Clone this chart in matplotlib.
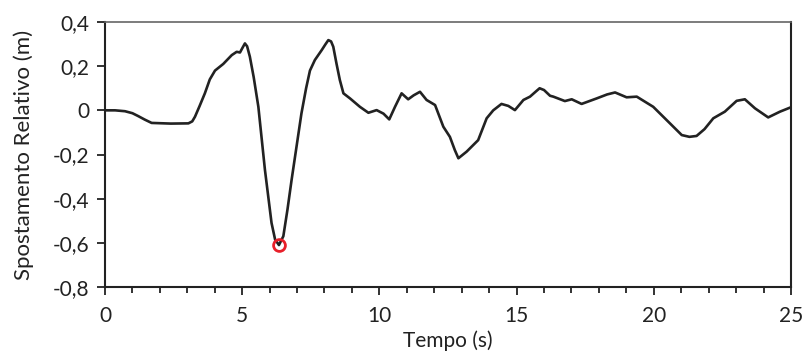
import matplotlib.pyplot as plt
from matplotlib.ticker import FuncFormatter, MultipleLocator

# --- dati ---
tempo = [0.0, 0.37, 0.73, 1.0, 1.21, 1.45, 1.70, 2.40, 3.04, 3.18, 3.28,
         3.45, 3.64, 3.82, 4.01, 4.31, 4.62, 4.80, 4.92, 5.02, 5.10, 5.18,
         5.28, 5.42, 5.59, 5.83, 6.07, 6.20, 6.34, 6.50, 6.65, 6.80, 7.16,
         7.33, 7.47, 7.65, 7.90, 8.04, 8.14, 8.24, 8.32, 8.44, 8.56, 8.69,
         8.93, 9.29, 9.60, 9.90, 10.15, 10.36, 10.57, 10.81, 11.05, 11.25,
         11.48, 11.72, 12.03, 12.33, 12.57, 12.75, 12.88, 13.18, 13.60, 13.91,
         14.15, 14.45, 14.70, 14.94, 15.25, 15.49, 15.70, 15.84, 16.00, 16.22,
         16.34, 16.76, 17.01, 17.37, 17.92, 18.30, 18.59, 19.01, 19.38, 19.98,
         20.59, 21.02, 21.30, 21.56, 21.85, 22.17, 22.59, 23.02, 23.32, 23.69,
         24.17, 24.60, 25.0]
spostamento = [0.0, 0.0, -0.004, -0.013, -0.026, -0.042, -0.057, -0.060,
               -0.059, -0.050, -0.029, 0.020, 0.077, 0.140, 0.180, 0.210,
               0.250, 0.265, 0.262, 0.285, 0.303, 0.290, 0.243, 0.150, 0.016,
               -0.270, -0.510, -0.585, -0.610, -0.570, -0.450, -0.316, -0.014,
               0.100, 0.180, 0.228, 0.273, 0.300, 0.318, 0.312, 0.288, 0.210,
               0.137, 0.077, 0.054, 0.016, -0.011, 0.001, -0.015, -0.041,
               0.016, 0.077, 0.050, 0.068, 0.084, 0.047, 0.024, -0.074, -0.120,
               -0.180, -0.217, -0.187, -0.135, -0.036, 0.000, 0.029, 0.020,
               0.001, 0.047, 0.062, 0.085, 0.100, 0.092, 0.066, 0.062, 0.042,
               0.050, 0.029, 0.054, 0.072, 0.081, 0.059, 0.062, 0.016, -0.059,
               -0.112, -0.120, -0.116, -0.085, -0.036, -0.006, 0.043, 0.050,
               0.009, -0.032, -0.006, 0.014]
picco_t = 6.34
picco_val = -0.61

plt.rcParams["font.family"] = ["Lato", "DejaVu Sans"]

fig = plt.figure(figsize=(8.1, 3.56), dpi=100)
ax = fig.add_axes([0.1296, 0.1938, 0.8469, 0.7444])

ax.plot(tempo, spostamento, color="#222222", linewidth=1.9,
        solid_joinstyle="round", solid_capstyle="round")
ax.plot([picco_t], [picco_val], marker="o", markersize=8.5, markerfacecolor="none",
        markeredgecolor="#e8202a", markeredgewidth=2.0, linestyle="none")

ax.set_xlim(0, 25)
ax.set_ylim(-0.8, 0.4)
ax.xaxis.set_major_locator(MultipleLocator(5))
ax.xaxis.set_minor_locator(MultipleLocator(1))
ax.yaxis.set_major_locator(MultipleLocator(0.2))


def virgola(v, pos):
    if abs(v) < 1e-9:
        return "0"
    if abs(v - round(v)) < 1e-9:
        return f"{v:.0f}"
    return f"{v:.1f}".replace(".", ",")


ax.xaxis.set_major_formatter(FuncFormatter(virgola))
ax.yaxis.set_major_formatter(FuncFormatter(virgola))

ax.tick_params(axis="both", which="major", direction="out", length=5.5, width=1.3,
               color="#222222", labelsize=15, labelcolor="#222222", pad=6)
ax.tick_params(axis="x", which="minor", direction="out", length=4.5, width=1.3,
               color="#222222")
ax.tick_params(axis="x", which="major", pad=8)

for side in ["left", "bottom", "right"]:
    ax.spines[side].set_color("#222222")
    ax.spines[side].set_linewidth(1.5)
ax.spines["top"].set_color("#666666")
ax.spines["top"].set_linewidth(1.2)

ax.set_xlabel("Tempo (s)", fontsize=15, color="#222222", labelpad=3)
ax.set_ylabel("Spostamento Relativo (m)", fontsize=16, color="#222222", labelpad=13)

fig.savefig("out.png", dpi=100)
